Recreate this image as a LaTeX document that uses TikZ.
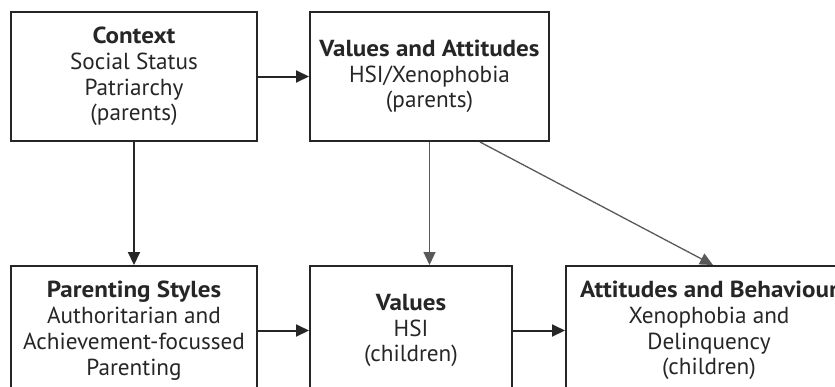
\documentclass[tikz,border=0pt]{standalone}
\usepackage{fontspec}
\setmainfont{PT Sans}[BoldFeatures={FakeStretch=1.08}]
\usetikzlibrary{arrows.meta}
\begin{document}
\begin{tikzpicture}[x=1pt,y=-1pt,
  box/.style={draw=black!85, line width=2pt, rectangle, inner sep=0pt,
    minimum height=129pt, align=center, text=black!85,
    font=\fontsize{23.2}{25.8}\selectfont},
  conn/.style={draw=black!85, line width=2pt, -{Triangle[length=13pt,width=12pt]}},
  thin/.style={draw=black!65, line width=1.3pt, -{Triangle[length=13pt,width=12pt]}}]
\useasboundingbox (0,0) rectangle (835,386);
\clip (0,0) rectangle (835,386);
\node[box, minimum width=246pt] (ctx) at (134,76.5)
  {\textbf{Context}\\Social Status\\Patriarchy\\(parents)};
\node[box, minimum width=239pt] (va) at (429.5,76.5)
  {\textbf{Values and Attitudes}\\HSI/Xenophobia\\(parents)};
\node[box, minimum width=246pt] (ps) at (134,330.5)
  {\textbf{Parenting Styles}\\Authoritarian and\\Achievement-focussed\\Parenting};
\node[box, minimum width=202pt] (val) at (411,330.5)
  {\textbf{Values}\\HSI\\(children)};
\node[box, minimum width=286pt] (ab) at (709,330.5)
  {\textbf{Attitudes and Behaviour}\\Xenophobia and\\Delinquency\\(children)};
\draw[conn] (ctx) -- (va);
\draw[conn] (ctx) -- (ps);
\draw[thin] (va.south) -- (va.south |- val.north);
\draw[thin] ([xshift=50.5pt]va.south) -- ([xshift=4pt]ab.north);
\draw[conn] (ps) -- (val);
\draw[conn] (val) -- (ab);
\end{tikzpicture}
\end{document}
